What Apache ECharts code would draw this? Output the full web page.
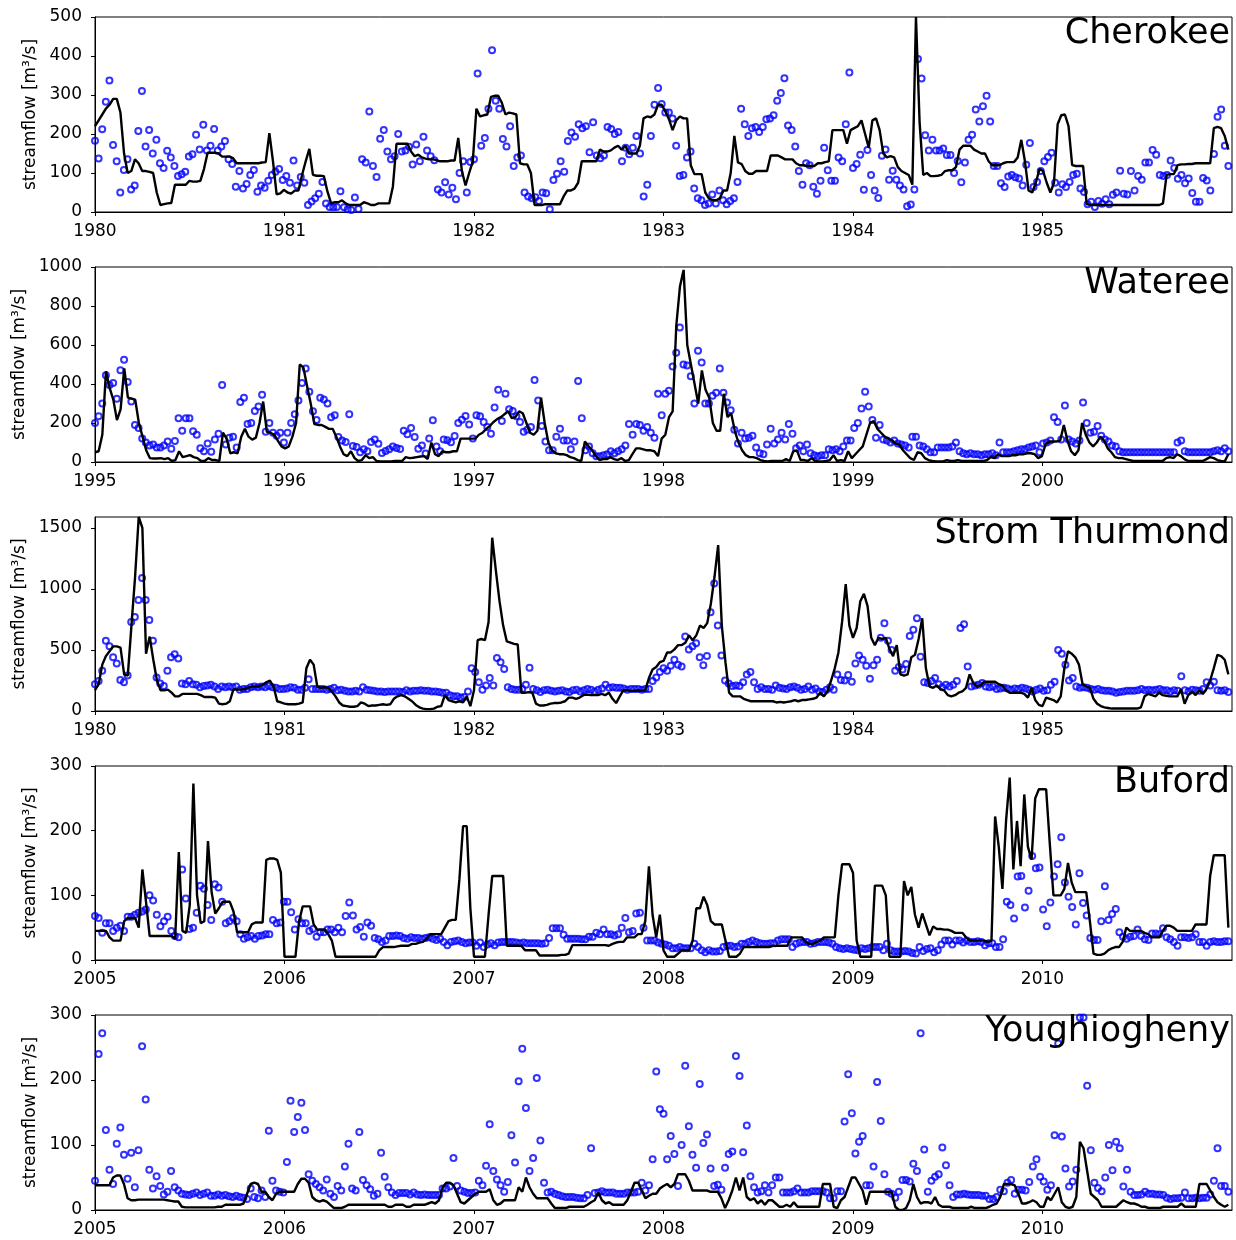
<!DOCTYPE html>
<html><head><meta charset="utf-8">
<script src="https://cdn.jsdelivr.net/npm/echarts@6/dist/echarts.min.js"></script>
<style>html,body{margin:0;padding:0;background:#fff}#c{width:1236px;height:1240px}</style>
</head><body><div id="c"></div>
<script>
const panelNames = ['Cherokee','Wateree','Strom Thurmond','Buford','Youghiogheny'];
const startYears = [1980,1995,1980,2005,2005];
const yMaxes = [500,1000,1590,300,300];
const yTickValues = [[0,100,200,300,400,500],[0,200,400,600,800,1000],[0,500,1000,1500],[0,100,200,300],[0,100,200,300]];
const yAxisTitle = 'streamflow [m³/s]';

const cherokeeObs = [
183,137,212,283,337,172,130,50,108,135,58,68,208,310,168,210,150,185,125,113,157,140,118,92,97,103,142,148,198,160,224,158,170,213,158,168,182,135,123,65,105,60,72,95,108,52,68,62,80,95,103,110,
82,92,75,132,68,90,75,18,27,35,47,77,22,13,12,13,53,12,7,5,37,8,135,127,258,118,90,188,210,155,135,143,200,155,158,167,122,173,130,193,158,143,133,58,50,76,45,62,33,100,130,50,
128,135,355,170,190,265,415,285,265,187,168,220,118,140,145,50,40,35,38,28,50,48,7,82,98,130,103,182,204,193,225,215,220,153,230,145,138,145,218,213,200,205,130,165,148,165,195,150,40,70,195,275,318,
277,255,255,240,170,92,95,140,155,60,35,30,18,22,45,22,55,30,20,28,35,77,265,225,195,215,218,205,218,238,240,248,285,305,343,222,210,168,105,70,125,120,65,47,80,165,107,80,80,140,130,225,
358,113,123,147,57,159,95,55,36,144,160,83,106,83,68,58,15,19,58,392,342,197,158,185,158,158,163,146,146,100,131,76,127,185,198,263,232,271,298,232,118,118,74,64,91,95,89,86,68,121,177,64,77,
105,130,141,152,75,50,71,64,77,95,98,60,51,20,26,13,28,21,33,20,44,50,106,47,45,105,55,92,83,127,127,159,147,95,92,95,132,113,85,95,74,86,49,26,26,87,81,55,149,244,263,170,118
];
const cherokeeSim = [
220,235,250,265,275,290,290,255,150,100,105,135,125,105,105,103,100,50,18,20,22,23,70,70,70,70,80,78,78,80,110,152,152,152,150,142,142,142,138,125,125,125,125,125,125,125,127,128,202,130,45,48,
57,50,47,55,55,95,130,162,95,93,93,92,52,22,25,25,30,22,18,18,18,18,25,22,18,18,22,22,22,22,65,175,175,175,175,155,143,147,140,137,135,135,133,130,130,130,132,132,190,105,68,100,
130,265,245,248,250,295,298,298,280,250,255,253,250,125,122,122,100,18,18,18,20,20,20,20,20,40,55,55,60,75,130,130,130,130,130,160,155,155,158,165,170,160,170,150,150,150,170,240,245,243,250,275,
275,258,238,210,235,245,240,240,120,97,97,97,50,35,30,30,35,55,55,100,195,127,123,105,98,98,105,105,105,105,145,145,145,140,135,135,135,125,120,120,118,118,118,125,125,128,130,210,210,210,210,175,
210,215,220,235,200,165,235,240,210,150,140,143,140,115,105,100,95,70,500,230,95,100,92,92,93,95,105,107,107,115,160,170,170,170,160,155,150,150,130,120,120,120,125,128,128,128,140,185,130,55,50,75,
110,105,75,50,75,225,248,250,220,120,118,118,118,20,18,18,18,18,18,18,18,18,18,18,18,18,18,18,18,18,18,18,18,18,22,95,97,97,120,122,122,123,123,125,125,125,125,125,215,218,215,195,160
];
const watereeObs = [
200,235,300,445,395,405,325,470,525,410,310,190,175,120,100,85,90,75,75,85,105,68,108,225,160,225,225,158,140,70,55,95,52,115,145,395,90,125,130,75,308,330,195,200,262,285,345,155,200,150,135,150,100,
150,200,245,315,405,480,360,260,215,330,320,300,230,240,128,110,102,245,82,77,50,65,55,103,116,94,46,56,65,80,72,67,160,142,175,128,68,84,43,121,214,80,55,116,111,101,133,200,217,236,192,120,
240,235,205,180,145,280,370,210,350,270,262,235,205,155,165,180,420,315,185,105,60,60,130,170,110,110,65,105,415,225,60,80,45,30,30,35,40,55,45,55,65,85,195,140,195,190,160,180,150,125,350,
240,350,365,490,560,690,500,495,440,300,570,510,300,300,340,355,480,355,305,265,165,95,150,120,125,135,75,45,40,90,170,95,115,150,115,195,145,70,85,55,90,45,35,30,35,35,65,60,65,55,80,110,
110,175,200,275,360,285,215,125,190,115,110,100,110,95,90,85,75,130,130,85,80,65,50,50,75,75,75,75,80,100,55,45,40,45,40,40,35,40,40,45,35,100,50,50,50,55,60,65,65,75,80,85,50,
95,100,110,230,205,115,290,115,105,95,110,305,200,150,155,185,135,115,105,85,80,55,50,50,50,50,50,50,50,50,50,50,50,50,50,50,50,100,110,55,50,50,50,50,50,50,50,55,60,55,70,55
];
const watereeSim = [
50,55,140,465,380,320,215,270,480,330,325,320,200,130,60,20,18,18,20,15,20,5,10,55,25,30,35,25,20,5,5,20,10,10,5,150,120,45,50,45,130,170,130,115,125,200,310,155,150,140,110,80,
70,80,130,200,500,485,390,300,195,190,190,180,170,170,130,80,40,30,55,20,5,10,35,20,25,5,3,3,3,3,5,5,5,25,20,22,25,28,30,15,100,40,30,55,50,50,55,55,120,120,120,120,
120,140,150,170,185,205,220,230,245,260,225,230,260,250,200,150,140,160,330,200,100,60,45,40,40,35,25,20,10,5,105,80,60,30,10,15,15,25,15,10,20,5,10,40,70,70,65,60,60,55,30,120,
140,230,260,700,900,985,600,500,400,300,470,370,330,200,160,160,350,230,250,160,100,60,35,25,25,20,10,5,3,5,5,5,5,15,5,55,60,10,10,5,20,5,3,3,5,10,35,5,10,5,55,20,
40,60,80,140,200,210,170,150,130,120,110,95,90,60,40,20,10,50,45,20,10,5,3,3,3,10,5,5,10,5,5,5,5,5,5,5,10,25,20,40,30,30,30,35,35,40,40,45,45,40,20,
30,90,105,105,105,110,190,110,55,35,60,200,140,100,80,100,130,110,70,50,25,20,20,15,10,5,5,5,5,5,5,5,5,5,20,25,20,40,30,15,5,5,5,5,5,15,25,20,10,5,3,40
];
const stromObs = [
220,245,330,575,530,440,390,255,235,290,730,770,910,1090,910,745,575,275,225,205,330,440,465,430,225,220,245,220,215,195,205,210,215,200,180,200,195,200,195,200,175,180,180,195,200,195,200,195,205,195,190,180,
180,185,195,190,175,175,190,260,180,180,180,180,175,180,190,170,175,165,160,160,165,160,195,175,170,165,160,160,155,160,160,160,160,155,170,160,165,165,170,165,165,160,160,155,150,150,130,120,120,110,115,160,
350,320,235,175,210,270,210,435,400,345,195,180,175,175,180,215,355,180,170,155,170,175,165,160,165,170,160,155,170,175,160,170,180,175,160,175,185,215,190,195,190,190,185,175,180,180,180,175,180,180,245,275,
320,350,330,370,420,380,365,610,505,530,555,440,375,450,810,1045,700,455,250,225,205,210,205,235,300,320,235,180,195,180,180,175,210,190,185,180,195,200,190,175,180,200,175,185,160,155,175,195,175,300,255,250,
295,240,390,455,420,370,265,375,420,600,720,575,500,330,360,340,385,615,665,760,445,235,230,245,270,220,195,215,200,215,245,680,710,365,200,210,215,230,200,195,200,180,185,190,185,175,185,180,190,185,175,160,175,
185,165,170,215,240,500,470,380,250,270,200,190,195,190,180,175,180,170,165,165,160,150,155,160,165,165,165,170,180,170,175,170,175,180,170,170,160,170,165,285,170,160,175,170,165,180,235,210,240,170,165,170,155
];
const stromSim = [
170,220,380,450,490,530,530,520,300,290,700,1100,1590,1500,470,610,420,250,170,170,175,150,120,120,140,140,140,140,140,130,115,115,115,110,60,55,60,80,180,175,175,180,190,200,200,200,215,235,250,200,80,70,
60,55,55,55,60,70,350,420,380,200,190,195,190,160,120,70,45,40,35,35,40,70,60,40,45,45,50,55,50,55,100,120,130,120,100,80,50,30,20,15,15,20,35,40,130,90,80,70,80,70,120,40,
170,580,590,580,730,1420,1150,900,700,570,560,550,545,150,150,155,150,60,45,45,50,60,65,65,70,80,110,110,100,110,130,135,130,130,130,140,130,150,100,65,120,170,170,165,165,170,165,170,270,340,360,400,
410,480,480,505,540,540,560,620,580,620,700,680,720,880,1100,1360,700,400,150,120,120,120,100,90,80,80,80,80,80,80,80,70,75,70,75,80,90,80,90,90,95,100,110,150,120,160,250,350,480,730,1040,700,
600,680,900,960,860,600,540,600,590,600,510,450,540,300,290,300,440,460,590,760,350,200,190,210,180,170,130,120,130,150,160,190,300,230,200,210,240,240,240,240,220,210,170,150,150,150,150,140,110,190,90,50,
40,110,100,90,70,120,350,490,470,440,380,220,200,190,100,60,40,30,25,20,20,20,20,20,20,20,20,30,120,140,130,120,150,130,125,120,120,120,180,60,130,160,130,170,140,180,250,350,460,450,420,300
];
const bufordObs = [
68,65,42,57,57,45,50,53,45,67,67,70,73,75,78,100,92,70,52,60,67,45,37,35,140,95,48,50,73,115,110,85,62,117,112,90,57,60,65,60,40,33,35,37,33,37,38,40,40,62,57,58,
90,90,74,47,63,57,57,45,48,36,43,43,47,47,43,50,43,68,89,69,47,51,36,58,53,34,32,28,30,37,37,38,37,34,33,35,34,34,33,34,35,33,31,33,28,23,28,29,30,28,26,27,
27,22,27,20,24,26,23,27,28,28,28,28,27,26,27,26,26,26,26,25,26,34,49,49,49,39,33,33,33,33,32,32,36,36,42,40,47,40,40,38,40,50,65,43,45,72,73,50,30,30,30,27,25,
24,22,18,18,20,18,18,18,25,20,15,12,15,13,13,14,20,22,22,20,21,25,25,28,30,28,26,25,25,26,26,30,32,32,32,20,25,27,28,28,25,26,28,28,28,27,25,20,18,17,18,17,
16,15,18,17,18,20,20,20,15,25,15,13,13,13,14,13,11,10,20,14,17,18,12,15,24,30,30,24,30,30,27,30,28,28,29,28,23,26,26,20,20,32,90,85,64,129,130,81,107,161,142,143,
78,52,89,129,148,190,120,98,82,55,134,88,69,34,31,31,60,114,62,71,79,43,36,33,36,37,47,37,32,31,41,41,40,49,35,32,28,22,35,35,34,35,40,28,28,22,28,29,28,28,29,29
];
const bufordSim = [
45,45,45,45,35,30,30,30,60,65,65,65,50,140,90,37,37,37,37,37,37,37,33,167,45,42,85,273,100,57,60,184,105,72,80,90,90,90,75,43,43,43,43,55,58,58,58,155,157,157,155,135,
5,5,5,5,60,83,83,83,55,47,47,47,40,30,5,5,5,5,5,5,5,5,5,5,5,5,15,20,20,20,20,21,22,22,22,25,25,27,28,33,40,40,40,40,50,60,62,62,125,207,207,80,
5,5,5,5,70,130,130,130,130,22,22,22,22,22,15,15,15,15,7,7,7,7,7,7,8,8,10,23,23,23,23,23,23,23,23,23,23,22,25,27,28,28,35,35,35,40,40,60,145,70,35,70,
15,5,5,5,10,15,15,15,30,80,80,98,85,60,55,55,55,30,5,5,5,10,20,20,20,20,20,20,20,20,22,22,22,22,22,35,35,35,35,28,25,25,28,30,35,35,35,35,100,148,148,148,
135,30,5,5,5,5,115,115,115,100,5,5,5,5,122,100,113,70,50,72,55,38,52,48,48,47,47,45,42,42,42,35,30,30,30,30,30,28,30,222,175,110,215,282,140,215,145,256,175,155,250,264,
264,264,180,100,100,100,110,150,120,105,105,105,105,60,10,8,8,10,15,18,20,20,28,50,45,45,45,45,42,40,35,35,35,45,53,53,50,45,45,45,45,45,55,55,55,55,130,162,162,162,162,50
];
const youghObs = [
45,240,272,123,62,40,102,127,85,48,88,35,92,252,170,62,33,52,37,24,28,60,35,30,25,24,23,25,27,23,25,27,22,22,24,22,23,21,20,22,20,19,17,33,20,18,30,20,122,45,30,28,27,
74,168,120,143,165,123,55,45,40,35,30,47,25,20,37,30,67,102,33,30,120,46,38,32,22,25,88,51,35,27,23,26,26,26,24,27,24,23,24,23,23,23,23,33,33,36,80,37,30,28,26,26,27,
45,38,68,132,60,47,38,28,43,115,73,198,248,157,60,80,203,107,42,27,28,25,23,21,20,20,20,19,18,18,23,95,26,27,29,27,27,27,25,25,25,27,27,27,28,42,30,38,78,213,155,148,
78,114,86,37,100,222,129,85,65,194,103,116,64,37,39,31,65,86,90,237,206,89,130,52,35,27,29,38,27,38,50,50,27,27,27,29,33,27,27,27,29,29,29,29,27,18,18,29,29,136,209,149,
87,105,114,38,38,67,197,137,55,28,25,19,28,46,46,44,71,60,272,93,28,45,51,55,96,69,38,20,24,24,25,24,23,23,23,22,22,17,17,20,31,29,42,46,25,31,31,30,43,67,78,51,44,
31,38,115,256,113,64,36,44,62,296,296,191,92,42,34,29,50,100,61,105,95,36,62,28,23,23,24,28,25,25,24,24,23,19,17,18,18,19,27,18,18,19,18,19,19,24,45,95,37,37,28
];
const youghSim = [
38,38,38,38,38,50,53,53,40,18,15,15,16,16,16,16,16,16,16,16,15,14,13,13,5,4,4,4,4,4,4,4,4,4,5,5,8,8,8,8,8,10,25,40,42,40,28,28,20,15,25,28,
28,28,28,28,40,48,48,42,20,15,13,15,13,8,3,3,3,5,8,8,8,8,8,8,8,8,8,8,8,5,5,8,8,8,5,5,8,8,8,8,10,12,10,15,35,42,42,38,25,12,10,15,
20,25,28,28,28,32,15,8,10,15,15,15,15,35,28,50,35,25,18,18,18,18,10,3,3,3,3,5,5,5,5,5,8,12,15,27,15,10,12,8,8,8,8,15,28,42,42,30,18,22,25,25,
33,37,40,35,40,55,55,55,45,30,30,30,30,30,28,28,28,18,3,15,30,50,30,50,20,15,18,10,15,8,15,15,10,5,5,8,5,12,5,5,5,5,5,5,5,40,40,40,5,3,15,20,
35,50,50,40,30,8,28,28,28,28,28,28,28,5,0,0,3,15,40,20,10,12,12,10,20,8,5,5,5,3,3,3,3,3,5,3,3,3,3,5,8,10,20,40,40,40,38,25,10,10,12,15,12,
5,5,20,15,25,35,12,5,3,5,20,105,95,60,25,20,15,5,5,5,5,5,10,15,12,10,10,8,5,5,3,3,3,3,5,5,5,5,5,10,5,5,5,5,40,40,40,30,20,12,8,5,8
];

const obsSets = [cherokeeObs, watereeObs, stromObs, bufordObs, youghObs];
const simSets = [cherokeeSim, watereeSim, stromSim, bufordSim, youghSim];

// layout
const gridTops = [17, 267, 517, 766, 1015];
const gridHeights = [195, 195, 194, 194, 195];
const nameGaps = [55, 66, 66, 55, 55];
const FONT = 'DejaVu Sans';
const SPAN = 6;

function toPairs(vals, start) {
  const step = SPAN / vals.length;
  return vals.map((v, i) => [start + i * step, v]);
}

const grids = [], xAxes = [], yAxes = [], series = [], titles = [];
for (let i = 0; i < 5; i++) {
  const start = startYears[i];
  const years = [0,1,2,3,4,5].map(k => start + k);
  grids.push({left: 95, top: gridTops[i], width: 1137, height: gridHeights[i],
    show: true, borderColor: '#000', borderWidth: 1, backgroundColor: 'transparent', containLabel: false});
  xAxes.push({type: 'value', gridIndex: i, min: start, max: start + SPAN, interval: 1,
    axisLine: {show: true, onZero: false, lineStyle: {color: '#000', width: 1}},
    axisTick: {show: true, inside: false, length: 4, lineStyle: {color: '#000'}, customValues: years},
    axisLabel: {show: true, customValues: years, fontSize: 17, color: '#000', fontFamily: FONT, margin: 11,
      formatter: v => String(Math.round(v))},
    splitLine: {show: false}});
  yAxes.push({type: 'value', gridIndex: i, min: 0, max: yMaxes[i],
    axisLine: {show: true, onZero: false, lineStyle: {color: '#000', width: 1}},
    axisTick: {show: true, inside: false, length: 4, lineStyle: {color: '#000'}, customValues: yTickValues[i]},
    axisLabel: {show: true, customValues: yTickValues[i], fontSize: 17, color: '#000', fontFamily: FONT, margin: 13,
      formatter: v => String(Math.round(v))},
    splitLine: {show: false},
    name: yAxisTitle, nameLocation: 'middle', nameGap: nameGaps[i],
    nameTextStyle: {fontSize: 17, color: '#000', fontFamily: FONT}});
  series.push({type: 'scatter', xAxisIndex: i, yAxisIndex: i, data: toPairs(obsSets[i], start),
    symbol: 'circle', symbolSize: 6, z: 2,
    itemStyle: {color: 'rgba(0,0,0,0)', borderColor: '#0000ff', borderWidth: 2}});
  series.push({type: 'line', xAxisIndex: i, yAxisIndex: i, data: toPairs(simSets[i], start),
    showSymbol: false, symbol: 'none', z: 3,
    lineStyle: {color: '#000', width: 2.4}});
  titles.push({text: panelNames[i], right: 1, top: gridTops[i] - 6,
    textStyle: {fontSize: 35, fontWeight: 'normal', color: '#000', fontFamily: FONT}, z: 10});
}

const chart = echarts.init(document.getElementById('c'), null, {renderer: 'canvas'});
chart.setOption({
  animation: false,
  backgroundColor: '#fff',
  title: titles,
  grid: grids,
  xAxis: xAxes,
  yAxis: yAxes,
  series: series
});
</script>
</body></html>
